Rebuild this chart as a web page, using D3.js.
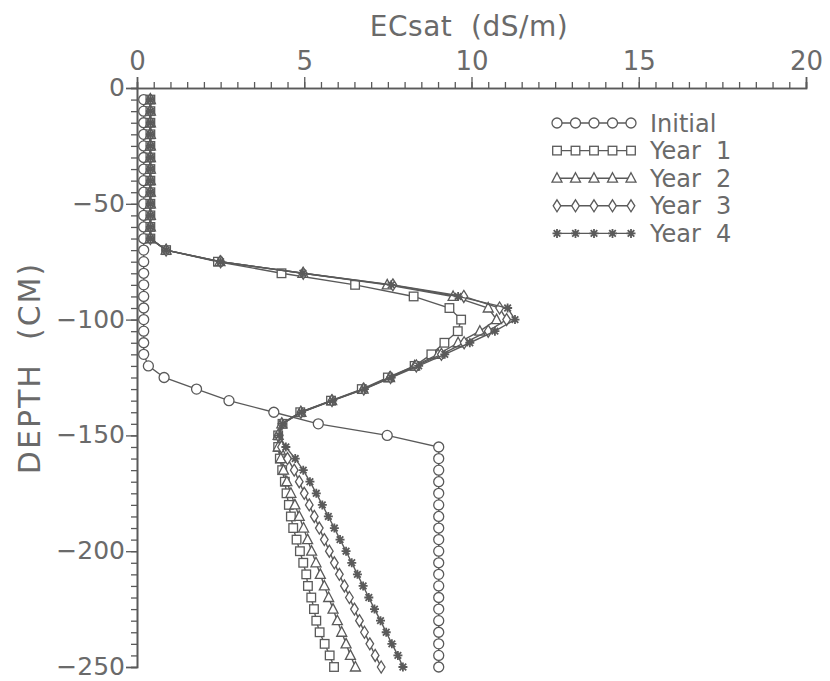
<!DOCTYPE html>
<html>
<head>
<meta charset="utf-8">
<script src="https://cdn.jsdelivr.net/npm/d3@7"></script>
<style>
  html, body { margin: 0; padding: 0; background: #fff; }
  svg text { font-family: "DejaVu Sans", sans-serif; fill: #6a6a6a; white-space: pre; }
</style>
</head>
<body>
<svg id="chart" width="830" height="681"></svg>
<script>
// Soil depth (cm) of each sample, and ECsat profiles (dS/m) at those depths
const depths = [-5, -10, -15, -20, -25, -30, -35, -40, -45, -50,
  -55, -60, -65, -70, -75, -80, -85, -90, -95, -100,
  -105, -110, -115, -120, -125, -130, -135, -140, -145, -150,
  -155, -160, -165, -170, -175, -180, -185, -190, -195, -200,
  -205, -210, -215, -220, -225, -230, -235, -240, -245, -250];

const initial = [0.2, 0.2, 0.2, 0.2, 0.2, 0.2, 0.2, 0.2, 0.2, 0.2,
  0.2, 0.2, 0.2, 0.2, 0.2, 0.2, 0.2, 0.2, 0.2, 0.2,
  0.2, 0.2, 0.2, 0.34, 0.81, 1.78, 2.75, 4.09, 5.42, 7.48,
  9.02, 9.02, 9.02, 9.02, 9.02, 9.02, 9.02, 9.02, 9.02, 9.02,
  9.02, 9.02, 9.02, 9.02, 9.02, 9.02, 9.02, 9.02, 9.02, 9.02];

const year1 = [0.4, 0.4, 0.4, 0.4, 0.4, 0.4, 0.4, 0.4, 0.4, 0.4,
  0.4, 0.4, 0.4, 0.87, 2.42, 4.32, 6.52, 8.27, 9.34, 9.69,
  9.59, 9.19, 8.8, 8.3, 7.5, 6.72, 5.8, 4.88, 4.35, 4.22,
  4.22, 4.27, 4.34, 4.42, 4.47, 4.54, 4.6, 4.67, 4.77, 4.87,
  4.97, 5.06, 5.11, 5.21, 5.29, 5.36, 5.46, 5.61, 5.76, 5.89];

const year2 = [0.4, 0.4, 0.4, 0.4, 0.4, 0.4, 0.4, 0.4, 0.4, 0.4,
  0.4, 0.4, 0.4, 0.87, 2.48, 4.96, 7.48, 9.45, 10.5, 10.75,
  10.25, 9.6, 9.0, 8.3, 7.55, 6.76, 5.82, 4.9, 4.33, 4.22,
  4.22, 4.3, 4.38, 4.48, 4.6, 4.72, 4.85, 4.98, 5.1, 5.22,
  5.35, 5.48, 5.6, 5.73, 5.86, 5.99, 6.12, 6.25, 6.38, 6.53];

const year3 = [0.4, 0.4, 0.4, 0.4, 0.4, 0.4, 0.4, 0.4, 0.4, 0.4,
  0.4, 0.4, 0.4, 0.87, 2.5, 4.97, 7.65, 9.77, 10.84, 11.05,
  10.5, 9.78, 9.1, 8.35, 7.58, 6.78, 5.83, 4.9, 4.33, 4.22,
  4.32, 4.5, 4.7, 4.85, 5.0, 5.15, 5.3, 5.45, 5.6, 5.75,
  5.9, 6.05, 6.2, 6.35, 6.5, 6.65, 6.8, 6.96, 7.12, 7.3];

const year4 = [0.4, 0.4, 0.4, 0.4, 0.4, 0.4, 0.4, 0.4, 0.4, 0.4,
  0.4, 0.4, 0.4, 0.87, 2.5, 4.96, 7.6, 9.6, 11.08, 11.3,
  10.7, 9.95, 9.2, 8.42, 7.6, 6.8, 5.85, 4.92, 4.35, 4.25,
  4.45, 4.73, 4.97, 5.17, 5.36, 5.54, 5.72, 5.9, 6.07, 6.25,
  6.42, 6.59, 6.76, 6.93, 7.1, 7.28, 7.45, 7.62, 7.8, 7.95];

const seriesNames = ["Initial", "Year  1", "Year  2", "Year  3", "Year  4"];
const seriesMarkers = ["circle", "square", "triangle", "diamond", "star"];
const seriesValues = [initial, year1, year2, year3, year4];

const xTicks = [0, 5, 10, 15, 20];
const yTicks = [0, -50, -100, -150, -200, -250];

const xTitle = "ECsat  (dS/m)";
const yTitle = "DEPTH  (CM)";

// ---- drawing ----
const ink = "#5a5a5a";
const svg = d3.select("#chart");

const x = d3.scaleLinear().domain([0, 20]).range([137, 806]);
const y = d3.scaleLinear().domain([0, -250]).range([88, 667]);

// top axis: minor ticks every 0.5, labelled ticks every 5
const xMinor = d3.range(0, 20.001, 0.5);
const gxMinor = svg.append("g").attr("transform", `translate(0,${y(0)})`)
  .call(d3.axisTop(x).tickValues(xMinor).tickSize(6).tickFormat(""));
const gx = svg.append("g").attr("transform", `translate(0,${y(0)})`)
  .call(d3.axisTop(x).tickValues(xTicks).tickSize(11).tickPadding(7).tickFormat(d3.format("d")));

// left axis: minor ticks every 5 cm, labelled ticks every 50 cm
const yMinor = d3.range(0, -250.001, -5);
const gyMinor = svg.append("g").attr("transform", `translate(${x(0)},0)`)
  .call(d3.axisLeft(y).tickValues(yMinor).tickSize(6).tickFormat(""));
const gy = svg.append("g").attr("transform", `translate(${x(0)},0)`)
  .call(d3.axisLeft(y).tickValues(yTicks).tickSize(11).tickPadding(1).tickFormat(d3.format("d")));

[gxMinor, gx, gyMinor, gy].forEach(g => {
  g.selectAll(".domain").attr("stroke", ink).attr("stroke-width", 1.6);
  g.selectAll(".tick line").attr("stroke", ink).attr("stroke-width", 1.3);
  g.selectAll("text").attr("font-size", 26).attr("fill", "#6a6a6a")
    .style("font-family", "'DejaVu Sans', sans-serif");
});
gy.selectAll("text").attr("font-size", 25).attr("dy", "0.3em");

// axis titles
svg.append("text")
  .attr("x", 469).attr("y", 36)
  .attr("text-anchor", "middle")
  .attr("font-size", 28)
  .attr("letter-spacing", 0.5)
  .text(xTitle);

svg.append("text")
  .attr("transform", `translate(40,${368}) rotate(-90)`)
  .attr("text-anchor", "middle")
  .attr("font-size", 30)
  .attr("letter-spacing", 2)
  .text(yTitle);

// marker shapes
function drawMarker(g, type, cx, cy) {
  const s = g.append("g").attr("transform", `translate(${cx},${cy})`)
    .attr("fill", "#fff").attr("stroke", ink).attr("stroke-width", 1.3);
  if (type === "circle") {
    s.append("circle").attr("r", 5);
  } else if (type === "square") {
    s.append("rect").attr("x", -4.3).attr("y", -4.3).attr("width", 8.6).attr("height", 8.6);
  } else if (type === "triangle") {
    s.append("path").attr("d", "M0,-5.5L5,4L-5,4Z");
  } else if (type === "diamond") {
    s.append("path").attr("d", "M0,-6L3.8,0L0,6L-3.8,0Z");
  } else if (type === "star") {
    s.append("path").attr("d", "M-4.5,0H4.5M0,-4.5V4.5M-3.3,-3.3L3.3,3.3M-3.3,3.3L3.3,-3.3")
      .attr("stroke-width", 1.8);
  }
}

const line = d3.line().x(d => x(d[0])).y(d => y(d[1]));

seriesValues.forEach((vals, i) => {
  const pts = vals.map((v, j) => [v, depths[j]]);
  const g = svg.append("g");
  g.append("path").datum(pts).attr("d", line)
    .attr("fill", "none").attr("stroke", ink).attr("stroke-width", 1.4);
  pts.forEach(p => drawMarker(g, seriesMarkers[i], x(p[0]), y(p[1])));
});

// legend
const legendX0 = 557, legendStep = 18.5, legendY0 = 123, legendRow = 27.6;
seriesNames.forEach((name, i) => {
  const ly = legendY0 + i * legendRow;
  const g = svg.append("g");
  g.append("line").attr("x1", legendX0).attr("x2", legendX0 + 4 * legendStep)
    .attr("y1", ly).attr("y2", ly).attr("stroke", ink).attr("stroke-width", 1.4);
  for (let k = 0; k < 5; k++) drawMarker(g, seriesMarkers[i], legendX0 + k * legendStep, ly);
  g.append("text").attr("x", 650).attr("y", ly).attr("dy", "0.36em")
    .attr("font-size", 24).text(name);
});
</script>
</body>
</html>
